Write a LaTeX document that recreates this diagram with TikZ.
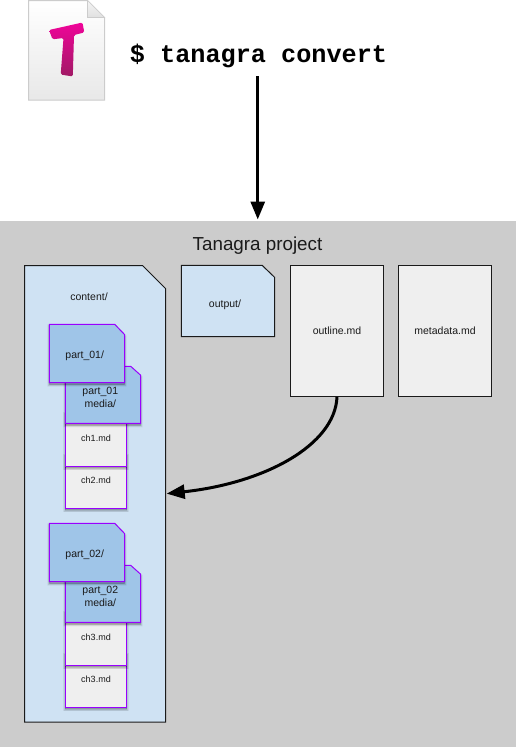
\documentclass[tikz,border=0pt]{standalone}
\usepackage{fontspec}
\setmainfont{Liberation Sans}
\newfontfamily\cmdfont{Liberation Mono}[BoldFont={Liberation Mono Bold}]
\usetikzlibrary{arrows.meta}
\definecolor{lightblue}{HTML}{CFE2F3}
\definecolor{midblue}{HTML}{9FC5E8}
\definecolor{filegray}{HTML}{EFEFEF}
\definecolor{projgray}{HTML}{CCCCCC}
\definecolor{purp}{HTML}{9900FF}
\definecolor{ink}{HTML}{1A1A1A}
\definecolor{logotop}{HTML}{F0049A}
\definecolor{logobottom}{HTML}{A01A64}
\tikzset{
  softshadow/.style={
    preaction={draw=black,fill=black,line width=4pt,opacity=.06,transform canvas={yshift=-2pt}},
    preaction={draw=black,fill=black,line width=2.4pt,opacity=.08,transform canvas={yshift=-2pt}},
    preaction={draw=black,fill=black,line width=1pt,opacity=.10,transform canvas={yshift=-2pt}}},
  outerbox/.style={draw=ink,line width=1pt,line join=miter},
  innerbox/.style={draw=purp,line width=1pt,softshadow},
  filebox/.style={rectangle,inner sep=0pt,fill=filegray,text=ink},
  labeltext/.style={inner sep=0pt,text=ink,font=\fontsize{10.5pt}{13pt}\selectfont,align=center},
  smalltext/.style={inner sep=0pt,text=ink,font=\fontsize{9pt}{11pt}\selectfont},
  flow/.style={draw=black,line width=3pt,-{Triangle[length=18pt,width=14pt]}}
}
% corner-cut shape: name, x1,y1,x2,y2, cut x, cut y, style
\newcommand{\cutbox}[8]{%
  \path[#8] (#2,#3) -- ({#4-#6},#3) -- (#4,{#3+#7}) -- (#4,#5) -- (#2,#5) -- cycle;
  \node[inner sep=0pt,minimum width={(#4-#2)*1pt},minimum height={(#5-#3)*1pt}] (#1) at ({(#2+#4)/2},{(#3+#5)/2}) {};
}
% one group of nested part folder, media folder and two chapter files
\newcommand{\partgroup}[6]{%
  \begin{scope}[yshift={-(#1)*1pt}]
    \node[filebox,innerbox,minimum width=61.4pt,minimum height=54pt] (#2c2) at (96,481.3) {};
    \node[smalltext] (#2c2t) at (96,480) {#6};
    \node[filebox,innerbox,minimum width=61.4pt,minimum height=54pt] (#2c1) at (96,439.3) {};
    \node[smalltext] (#2c1t) at (96,438.5) {#5};
    \cutbox{#2m}{65.3}{366.3}{140.7}{423.3}{10}{9}{fill=midblue,innerbox}
    \node[labeltext] (#2mt) at (100.3,397.6) {#4\\media/};
    \cutbox{#2p}{49.3}{324.3}{124.7}{382.7}{10}{10.4}{fill=midblue,innerbox}
    \node[labeltext] (#2pt) at (84.7,356) {#3};
  \end{scope}
}
\begin{document}
\begin{tikzpicture}[x=1pt,y=-1pt]
\useasboundingbox (0,0) rectangle (517,747);
% icon
\shade[top color=white,bottom color=black!9,draw=black!20,line width=1pt]
  (28.5,0.5) -- (87.5,0.5) -- (104.5,17.5) -- (104.5,100.2) -- (28.5,100.2) -- cycle;
\shade[top color=black!4,bottom color=black!12,draw=black!20,line width=.7pt]
  (87.5,0.5) -- (87.5,17.5) -- (104.5,17.5) -- cycle;
\shade[top color=logotop,bottom color=logobottom,rounded corners=1.5pt]
  (49,30) -- (82.5,22.5) -- (84.3,32.5) -- (74,35) -- (72.8,76.5) -- (60.7,74.5) -- (63.5,38) -- (52.5,39.3) -- cycle;
% project
\node[rectangle,inner sep=0pt,fill=projgray,draw=projgray,line width=1pt,minimum width=515.5pt,minimum height=525pt] (project) at (257.75,484) {};
\node[inner sep=0pt,text=ink,font=\fontsize{18.8pt}{20pt}\selectfont] (title) at (257.5,246) {Tanagra project};
% command
\node[inner sep=0pt,minimum height=41pt,font=\cmdfont\bfseries\fontsize{25.2pt}{28pt}\selectfont] (cmd) at (258.5,55.5) {\$ tanagra convert};
% top-level boxes
\cutbox{content}{24.5}{265.5}{165.5}{722}{23}{23}{fill=lightblue,outerbox}
\node[labeltext] (contentt) at (89,297) {content/};
\cutbox{output}{181.3}{265.4}{274.7}{336.7}{12.5}{12}{fill=lightblue,outerbox}
\node[labeltext] (outputt) at (225,304.3) {output/};
\node[filebox,outerbox,minimum width=93.4pt,minimum height=131pt,font=\fontsize{10.5pt}{13pt}\selectfont] (outline) at (337,330.9) {outline.md};
\node[filebox,outerbox,minimum width=93.4pt,minimum height=131pt,font=\fontsize{10.5pt}{13pt}\selectfont] (metadata) at (445,330.9) {metadata.md};
% parts
\partgroup{0}{a}{part\_01/}{part\_01}{ch1.md}{ch2.md}
\partgroup{199}{b}{part\_02/}{part\_02}{ch3.md}{ch3.md}
% connectors
\draw[flow] (project.north |- cmd.south) -- ([yshift=1.5pt]project.north);
\draw[flow,shorten >=1pt] (outline.south) .. controls (335,445) and (265,483) .. (content.east);
\end{tikzpicture}
\end{document}
